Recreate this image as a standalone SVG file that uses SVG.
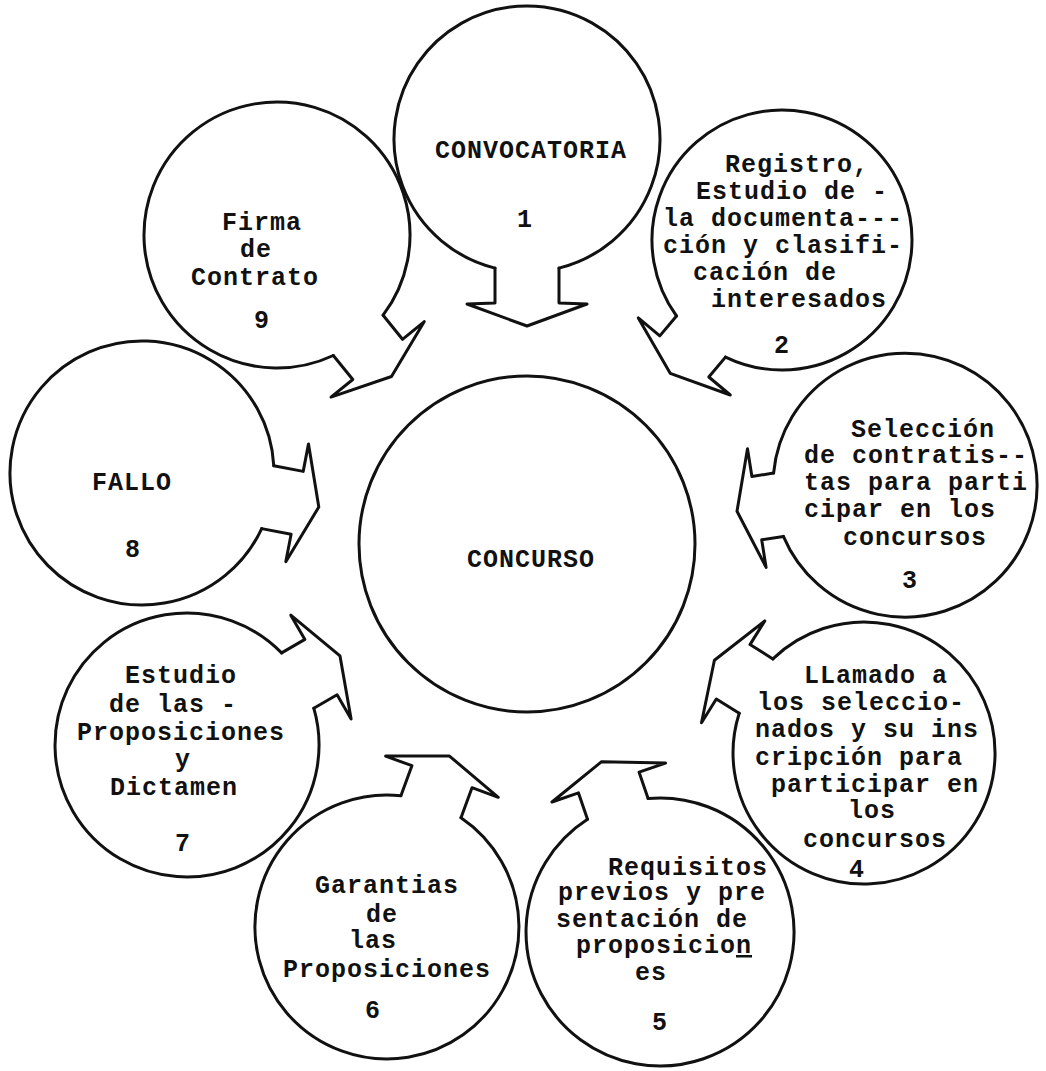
<svg xmlns="http://www.w3.org/2000/svg" width="1046" height="1071" viewBox="0 0 1046 1071">
<style>
.c{fill:none;stroke:#111;stroke-width:3;stroke-linejoin:round;stroke-linecap:round}
.t{font-family:"Liberation Mono","DejaVu Sans Mono",monospace;font-size:25px;font-weight:bold;fill:#111;text-anchor:middle;letter-spacing:1px}
</style>
<rect width="1046" height="1071" fill="#fff"/>
<g id="node-center">
<circle class="c" cx="527" cy="544" r="168"/>
<text class="t" x="531" y="567">CONCURSO</text>
</g>
<g id="node-1">
<path class="c" d="M559 268.1 A133 133 0 1 0 495 268.1"/>
<text class="t" x="531" y="158">CONVOCATORIA</text>
<text class="t" x="525" y="227">1</text>
</g>
<g id="node-2">
<path class="c" d="M725.5 357.1 A130 130 0 1 0 676.5 316"/>
<text class="t" x="797" y="172">Registro,</text>
<text class="t" x="792" y="199">Estudio de -</text>
<text class="t" x="783" y="226">la documenta---</text>
<text class="t" x="783" y="253">ción y clasifi-</text>
<text class="t" x="765" y="280">cación de</text>
<text class="t" x="799" y="307">interesados</text>
<text class="t" x="782" y="353">2</text>
</g>
<g id="node-3">
<path class="c" d="M783.4 536.4 A132 132 0 1 0 773.6 473.1"/>
<text class="t" x="923" y="437">Selección</text>
<text class="t" x="916" y="463">de contratis--</text>
<text class="t" x="916" y="490">tas para parti</text>
<text class="t" x="900" y="517">cipar en los</text>
<text class="t" x="915" y="545">concursos</text>
<text class="t" x="910" y="588">3</text>
</g>
<g id="node-4">
<path class="c" d="M739.2 713.3 A131 131 0 1 0 772.9 658.9"/>
<text class="t" x="876" y="683">LLamado a</text>
<text class="t" x="861" y="710">los seleccio-</text>
<text class="t" x="867" y="737">nados y su ins</text>
<text class="t" x="859" y="765">cripción para</text>
<text class="t" x="875" y="792">participar en</text>
<text class="t" x="872" y="818">los</text>
<text class="t" x="875" y="847">concursos</text>
<text class="t" x="857" y="877">4</text>
</g>
<g id="node-5">
<path class="c" d="M587.5 819.3 A134 134 0 1 0 648.1 798.5"/>
<text class="t" x="688" y="875">Requisitos</text>
<text class="t" x="662" y="900">previos y pre</text>
<text class="t" x="652" y="927">sentación de</text>
<text class="t" x="664" y="953">proposicio<tspan text-decoration="underline">n</tspan></text>
<text class="t" x="651" y="980">es</text>
<text class="t" x="660" y="1030">5</text>
</g>
<g id="node-6">
<path class="c" d="M400.9 795.7 A132 132 0 1 0 461 817.7"/>
<text class="t" x="387" y="893">Garantias</text>
<text class="t" x="382" y="922">de</text>
<text class="t" x="373" y="948">las</text>
<text class="t" x="387" y="977">Proposiciones</text>
<text class="t" x="373" y="1018">6</text>
</g>
<g id="node-7">
<path class="c" d="M281.6 652.9 A132 132 0 1 0 313.8 708.2"/>
<text class="t" x="181" y="683">Estudio</text>
<text class="t" x="173" y="712">de las -</text>
<text class="t" x="181" y="740">Proposiciones</text>
<text class="t" x="183" y="767">y</text>
<text class="t" x="174" y="795">Dictamen</text>
<text class="t" x="183" y="851">7</text>
</g>
<g id="node-8">
<path class="c" d="M273.8 465.8 A132 132 0 1 0 261.7 528.6"/>
<text class="t" x="132" y="490">FALLO</text>
<text class="t" x="133" y="557">8</text>
</g>
<g id="node-9">
<path class="c" d="M383.1 315.2 A133 133 0 1 0 333.3 355.5"/>
<text class="t" x="262" y="230">Firma</text>
<text class="t" x="256" y="257">de</text>
<text class="t" x="255" y="285">Contrato</text>
<text class="t" x="262" y="328">9</text>
</g>
<g id="connectors">
<path class="c" d="M495 268.1 L495 303 L467 304 L527 326 L587 304 L559 303 L559 268.1"/>
<path class="c" d="M676.5 316 L659.8 335.9 L638.3 317.9 L670.2 373.3 L730.3 395 L708.8 377 L725.5 357.1"/>
<path class="c" d="M773.6 473.1 L751.9 476.5 L747.5 448.8 L737 511.2 L766.1 567.4 L761.7 539.8 L783.4 536.4"/>
<path class="c" d="M772.9 658.9 L750 644.6 L764.8 620.9 L714.4 660.3 L701.5 722.8 L716.3 699 L739.2 713.3"/>
<path class="c" d="M648.1 798.5 L639.1 772.2 L665.5 763.1 L601.6 761.7 L552 802 L578.5 792.9 L587.5 819.3"/>
<path class="c" d="M461 817.7 L472 787.7 L498.3 797.3 L449.5 756.1 L385.6 756.1 L411.9 765.7 L400.9 795.7"/>
<path class="c" d="M313.8 708.2 L337.1 694.7 L351.1 718.9 L340 655.9 L290.8 615.2 L304.9 639.4 L281.6 652.9"/>
<path class="c" d="M261.7 528.6 L291.1 534.2 L285.8 561.7 L318.8 507 L308.5 443.9 L303.2 471.4 L273.8 465.8"/>
<path class="c" d="M333.3 355.5 L352.8 379.5 L331 397.1 L391.5 376.5 L424.3 321.6 L402.5 339.3 L383.1 315.2"/>
</g>
</svg>
